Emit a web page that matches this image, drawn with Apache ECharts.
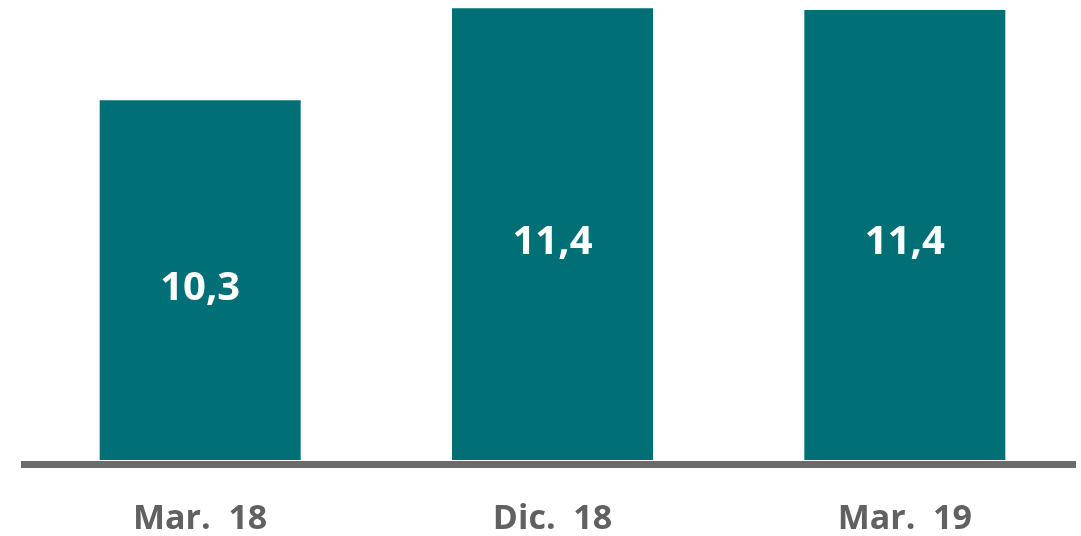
<!DOCTYPE html>
<html>
<head>
<meta charset="utf-8">
<script src="https://cdn.jsdelivr.net/npm/echarts@6/dist/echarts.min.js"></script>
<style>
html,body{margin:0;padding:0;background:#fff;}
#chart{width:1081px;height:536px;}
</style>
</head>
<body>
<div id="chart"></div>
<script>
const categories = ['Mar.  18', 'Dic.  18', 'Mar.  19'];
const values = [10.3, 11.4, 11.38];

const chart = echarts.init(document.getElementById('chart'), null, {renderer: 'canvas'});
chart.setOption({
  animation: false,
  backgroundColor: '#ffffff',
  grid: [
    {left: 24, right: -1, top: 0, bottom: 75, containLabel: false},
    {left: 21, right: 5, top: 0, bottom: 72, containLabel: false}
  ],
  xAxis: [
    {
      type: 'category', gridIndex: 0, data: categories,
      axisLine: {show: false},
      axisTick: {show: false},
      axisLabel: {
        color: '#616161', fontFamily: 'Open Sans', fontWeight: 'bold',
        fontSize: 34, margin: 42
      }
    },
    {
      type: 'category', gridIndex: 1, data: categories,
      axisLine: {show: true, lineStyle: {color: '#6b6b6b', width: 7, cap: 'butt'}},
      axisTick: {show: false},
      axisLabel: {show: false}
    }
  ],
  yAxis: [
    {type: 'value', gridIndex: 0, min: 6, max: 11.5, show: false},
    {type: 'value', gridIndex: 1, min: 6, max: 11.5, show: false}
  ],
  series: [{
    type: 'bar',
    xAxisIndex: 0, yAxisIndex: 0,
    data: values,
    barWidth: 201,
    itemStyle: {color: '#007076'},
    label: {
      show: true, position: 'inside', offset: [0, 8],
      color: '#ffffff', fontFamily: 'Open Sans', fontWeight: 'bold', fontSize: 40,
      formatter: p => p.value.toFixed(1).replace('.', ',')
    }
  }]
});
</script>
</body>
</html>
